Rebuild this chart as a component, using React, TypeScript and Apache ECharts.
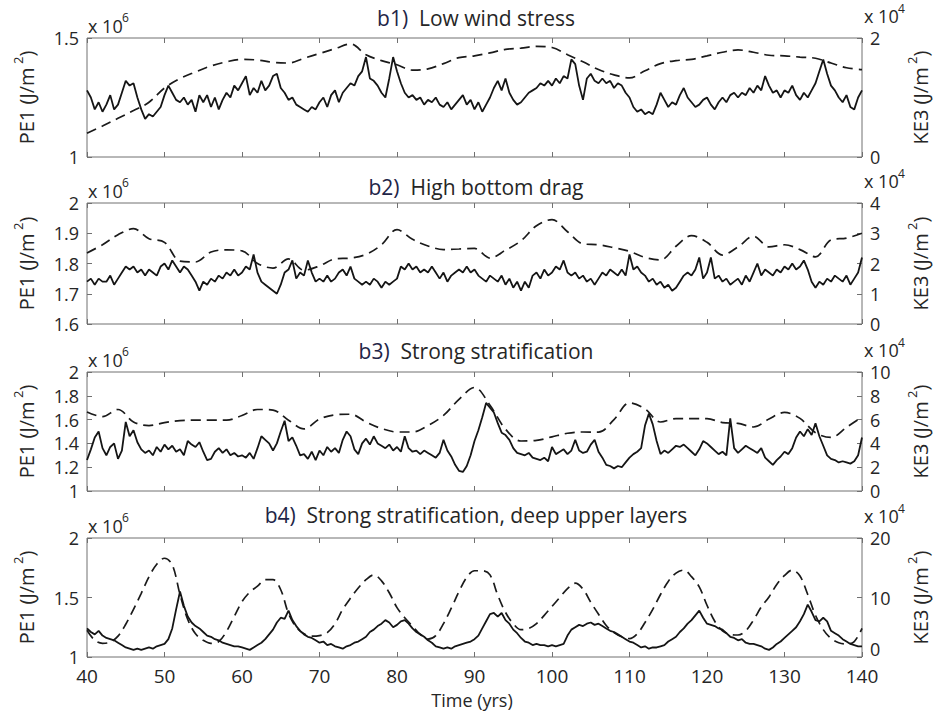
import React, { useEffect, useRef } from "react";
import * as echarts from "echarts";

// ---------- time grids (years) ----------
const TIME_HALF_YEAR = Array.from({ length: 201 }, (_, i) => 40 + i * 0.5);
const TIME_ONE_YEAR = Array.from({ length: 101 }, (_, i) => 40 + i);
const TIME_TWO_YEAR = Array.from({ length: 51 }, (_, i) => 40 + i * 2);

// ---------- panel texts ----------
const PANEL_TAGS = ["b1)", "b2)", "b3)", "b4)"];
const PANEL_TITLES = [
  "Low wind stress",
  "High bottom drag",
  "Strong stratification",
  "Strong stratification, deep upper layers",
];
const PE1_EXPONENT = "6";
const KE3_EXPONENT = "4";

// axis ranges: [min, max, interval]
const PE1_RANGES = [
  [1, 1.5, 0.5],
  [1.6, 2, 0.1],
  [1, 2, 0.2],
  [1, 2, 0.5],
];
const KE3_RANGES = [
  [0, 2, 2],
  [0, 4, 1],
  [0, 10, 2],
  [0, 20, 10],
];

// ---------- PE1 (x10^6 J/m^2), every 0.5 yr from 40 to 140 ----------
const PE1_B1 = [
  1.28,1.25,1.20,1.23,1.19,1.22,1.26,1.20,1.22,1.27,1.32,1.30,1.31,1.25,1.20,1.16,1.18,1.17,1.19,1.21,
  1.26,1.30,1.27,1.24,1.23,1.25,1.22,1.24,1.19,1.26,1.23,1.26,1.21,1.25,1.20,1.24,1.27,1.25,1.30,1.28,
  1.31,1.34,1.26,1.29,1.27,1.32,1.28,1.30,1.34,1.35,1.29,1.27,1.24,1.25,1.22,1.21,1.20,1.19,1.21,1.20,
  1.23,1.25,1.21,1.26,1.28,1.23,1.27,1.29,1.31,1.30,1.34,1.36,1.42,1.33,1.32,1.30,1.27,1.25,1.33,1.42,
  1.36,1.31,1.27,1.25,1.26,1.24,1.25,1.22,1.24,1.23,1.25,1.22,1.21,1.23,1.20,1.22,1.24,1.26,1.22,1.24,
  1.20,1.23,1.19,1.22,1.25,1.29,1.32,1.28,1.33,1.27,1.24,1.22,1.23,1.25,1.27,1.28,1.29,1.31,1.30,1.32,
  1.30,1.33,1.31,1.34,1.33,1.41,1.39,1.30,1.24,1.33,1.35,1.32,1.31,1.33,1.31,1.32,1.29,1.31,1.30,1.27,
  1.25,1.21,1.19,1.20,1.18,1.19,1.18,1.22,1.27,1.24,1.21,1.23,1.22,1.26,1.29,1.25,1.23,1.21,1.22,1.24,
  1.25,1.22,1.20,1.23,1.25,1.23,1.26,1.27,1.25,1.27,1.26,1.29,1.27,1.30,1.28,1.34,1.30,1.27,1.28,1.25,
  1.28,1.27,1.30,1.26,1.24,1.27,1.25,1.28,1.31,1.36,1.41,1.35,1.30,1.28,1.25,1.23,1.26,1.21,1.20,1.25,
  1.28,
];
const PE1_B2 = [
  1.74,1.75,1.73,1.75,1.74,1.74,1.76,1.73,1.75,1.77,1.79,1.78,1.79,1.77,1.78,1.76,1.78,1.77,1.76,1.79,
  1.80,1.78,1.81,1.79,1.77,1.79,1.78,1.76,1.74,1.71,1.74,1.73,1.75,1.74,1.76,1.75,1.77,1.76,1.78,1.76,
  1.77,1.79,1.78,1.83,1.77,1.74,1.73,1.72,1.71,1.70,1.73,1.77,1.78,1.81,1.75,1.77,1.76,1.81,1.77,1.74,
  1.75,1.74,1.76,1.74,1.75,1.77,1.78,1.76,1.79,1.75,1.74,1.73,1.74,1.73,1.75,1.74,1.72,1.74,1.73,1.74,
  1.75,1.79,1.78,1.80,1.78,1.79,1.77,1.78,1.77,1.79,1.77,1.75,1.77,1.74,1.76,1.77,1.78,1.77,1.79,1.77,
  1.78,1.76,1.75,1.74,1.76,1.75,1.74,1.76,1.73,1.75,1.72,1.74,1.71,1.74,1.72,1.76,1.77,1.75,1.78,1.76,
  1.77,1.79,1.78,1.81,1.77,1.76,1.77,1.75,1.76,1.74,1.75,1.73,1.75,1.77,1.76,1.78,1.77,1.76,1.78,1.76,
  1.83,1.78,1.79,1.77,1.76,1.74,1.75,1.73,1.74,1.72,1.73,1.71,1.72,1.74,1.76,1.77,1.76,1.78,1.82,1.75,
  1.77,1.82,1.75,1.76,1.74,1.75,1.73,1.74,1.75,1.73,1.76,1.74,1.77,1.80,1.76,1.78,1.77,1.76,1.78,1.77,
  1.79,1.78,1.80,1.78,1.79,1.81,1.78,1.74,1.72,1.74,1.73,1.75,1.74,1.76,1.75,1.74,1.76,1.73,1.75,1.77,
  1.82,
];
const PE1_B3 = [
  1.26,1.35,1.45,1.50,1.36,1.30,1.37,1.40,1.27,1.34,1.58,1.46,1.51,1.41,1.35,1.32,1.34,1.30,1.37,1.33,
  1.39,1.35,1.38,1.33,1.35,1.30,1.42,1.39,1.37,1.41,1.33,1.26,1.27,1.33,1.36,1.32,1.35,1.30,1.32,1.29,
  1.30,1.28,1.32,1.27,1.36,1.46,1.43,1.40,1.34,1.40,1.50,1.59,1.42,1.45,1.38,1.30,1.31,1.27,1.33,1.26,
  1.34,1.30,1.37,1.33,1.36,1.32,1.43,1.50,1.46,1.35,1.31,1.40,1.44,1.39,1.46,1.40,1.38,1.36,1.39,1.34,
  1.37,1.33,1.46,1.36,1.33,1.34,1.31,1.34,1.32,1.30,1.28,1.32,1.43,1.34,1.29,1.22,1.17,1.16,1.21,1.30,
  1.42,1.51,1.62,1.74,1.70,1.66,1.57,1.49,1.47,1.43,1.36,1.32,1.31,1.30,1.32,1.28,1.27,1.26,1.28,1.25,
  1.37,1.31,1.33,1.35,1.31,1.34,1.43,1.34,1.32,1.33,1.39,1.43,1.33,1.28,1.22,1.21,1.19,1.21,1.20,1.24,
  1.28,1.31,1.33,1.36,1.55,1.65,1.56,1.42,1.31,1.34,1.32,1.35,1.38,1.37,1.39,1.36,1.33,1.30,1.35,1.42,
  1.40,1.37,1.34,1.31,1.33,1.30,1.61,1.36,1.32,1.35,1.38,1.36,1.34,1.32,1.36,1.28,1.25,1.22,1.26,1.29,
  1.33,1.31,1.36,1.45,1.50,1.46,1.52,1.47,1.57,1.46,1.38,1.30,1.27,1.26,1.24,1.25,1.24,1.23,1.25,1.30,
  1.45,
];
const PE1_B4 = [
  1.24,1.21,1.19,1.22,1.18,1.16,1.15,1.14,1.12,1.10,1.08,1.07,1.06,1.07,1.06,1.07,1.08,1.07,1.09,1.10,
  1.11,1.15,1.24,1.40,1.55,1.43,1.34,1.29,1.26,1.24,1.21,1.18,1.17,1.15,1.14,1.12,1.11,1.10,1.09,1.09,
  1.08,1.07,1.06,1.08,1.10,1.12,1.15,1.19,1.23,1.29,1.33,1.32,1.39,1.31,1.26,1.22,1.19,1.17,1.16,1.14,
  1.12,1.13,1.10,1.11,1.09,1.08,1.07,1.09,1.10,1.12,1.13,1.15,1.17,1.21,1.23,1.26,1.28,1.31,1.29,1.25,
  1.27,1.30,1.31,1.28,1.24,1.21,1.19,1.17,1.14,1.12,1.09,1.08,1.07,1.08,1.07,1.09,1.10,1.11,1.12,1.13,
  1.15,1.18,1.24,1.30,1.36,1.37,1.34,1.37,1.31,1.28,1.23,1.20,1.16,1.13,1.12,1.10,1.11,1.10,1.10,1.09,
  1.10,1.09,1.10,1.11,1.18,1.23,1.25,1.27,1.26,1.28,1.29,1.27,1.28,1.26,1.24,1.22,1.21,1.19,1.17,1.15,
  1.13,1.12,1.10,1.08,1.09,1.07,1.08,1.08,1.09,1.10,1.13,1.15,1.17,1.21,1.24,1.28,1.31,1.35,1.39,1.33,
  1.28,1.27,1.26,1.24,1.23,1.20,1.17,1.16,1.14,1.15,1.12,1.11,1.11,1.10,1.09,1.07,1.06,1.08,1.11,1.13,
  1.16,1.19,1.22,1.25,1.30,1.36,1.44,1.38,1.31,1.30,1.33,1.30,1.22,1.20,1.18,1.15,1.13,1.11,1.10,1.09,
  1.09,
];

// ---------- KE3 (x10^4 J/m^2) ----------
// b1-b3: every 2 yr from 40 to 140; b4: every 1 yr
const KE3_B1 = [
  0.40,0.52,0.65,0.78,0.92,1.16,1.32,1.43,1.53,1.60,1.64,1.63,1.59,1.58,1.66,1.74,1.82,1.90,1.72,1.62,
  1.55,1.46,1.48,1.57,1.67,1.70,1.75,1.81,1.83,1.86,1.84,1.72,1.60,1.47,1.38,1.33,1.45,1.57,1.62,1.64,
  1.70,1.76,1.80,1.76,1.71,1.70,1.68,1.66,1.58,1.50,1.47,
];
const KE3_B2 = [
  2.35,2.62,2.95,3.15,2.82,2.70,2.08,2.05,2.38,2.45,2.42,2.00,1.85,2.15,1.78,1.92,2.15,2.18,2.30,2.62,
  3.12,2.80,2.58,2.46,2.48,2.50,2.18,2.44,2.75,3.25,3.45,3.05,2.65,2.62,2.52,2.40,2.20,2.12,2.57,2.92,
  2.70,2.28,2.55,2.90,2.55,2.62,2.46,2.22,2.78,2.84,3.00,
];
const KE3_B3 = [
  6.64,6.25,6.85,5.80,5.50,5.75,5.92,5.95,5.95,5.95,6.35,6.85,6.80,5.95,5.22,6.05,6.40,6.45,5.80,5.25,
  4.96,4.96,5.50,6.35,7.70,8.70,7.20,5.20,4.20,4.25,4.55,4.85,4.96,4.95,6.00,7.40,6.90,5.80,6.08,6.08,
  6.08,5.75,5.68,5.38,6.05,6.60,6.10,4.90,4.50,5.35,6.22,
];
const KE3_B4 = [
  4.5,2.8,2.3,2.5,3.5,5.5,8.0,10.7,13.5,15.6,
  16.6,15.5,10.5,6.3,3.9,2.8,2.3,2.6,4.3,6.8,
  9.3,10.9,11.9,13.0,13.0,11.3,7.3,5.0,3.9,3.5,
  3.6,4.1,5.6,8.0,9.9,11.6,13.0,13.8,12.8,10.8,
  8.3,6.6,5.2,3.8,3.0,3.6,5.6,8.2,11.0,13.4,
  14.5,14.5,13.8,10.4,7.5,5.6,4.6,4.8,5.6,7.0,
  8.5,10.0,11.5,12.4,11.4,9.2,7.2,5.3,4.1,3.4,
  3.1,3.9,5.8,8.0,10.5,12.7,14.1,14.6,13.5,11.8,
  8.7,6.0,4.4,3.8,3.7,4.4,6.2,8.4,10.1,12.2,
  13.7,14.6,13.6,10.5,7.0,4.6,3.1,2.4,2.2,2.6,
  4.8,
];

const PE1_SERIES = [PE1_B1, PE1_B2, PE1_B3, PE1_B4];
const KE3_SERIES = [KE3_B1, KE3_B2, KE3_B3, KE3_B4];
const KE3_TIMES = [TIME_TWO_YEAR, TIME_TWO_YEAR, TIME_TWO_YEAR, TIME_ONE_YEAR];

// ---------- layout ----------
const FONT = '"Open Sans", "Liberation Sans", sans-serif';
const GRID_LEFT = 87;
const GRID_WIDTH = 775;
const GRID_TOPS = [38, 203, 372, 538];
const GRID_HEIGHTS = [119, 121, 119, 119];
const TITLE_Y = [18, 187, 351, 515];
const TEXT = "#262626";
const FRAME = "#707070";

function plainText(x: number, y: number, text: string, size: number, align = "left", lineHeight?: number) {
  return {
    type: "text",
    x,
    y,
    silent: true,
    style: {
      text,
      fontSize: size,
      fontFamily: FONT,
      fill: TEXT,
      align,
      verticalAlign: "middle",
      ...(lineHeight ? { lineHeight } : {}),
    },
  };
}

function axisName(x: number, y: number, label: string) {
  return {
    type: "text",
    x,
    y,
    rotation: Math.PI / 2,
    silent: true,
    style: {
      text: `{a|${label} (J/m}{s| 2}{a|)}`,
      align: "center",
      verticalAlign: "middle",
      rich: {
        a: { fontSize: 20, fontFamily: FONT, fill: TEXT, lineHeight: 30, verticalAlign: "middle" },
        s: { fontSize: 13, fontFamily: FONT, fill: TEXT, verticalAlign: "top" },
      },
    },
  };
}

function buildOption() {
  const grid: any[] = [];
  const xAxis: any[] = [];
  const yAxis: any[] = [];
  const series: any[] = [];
  const graphic: any[] = [];

  for (let k = 0; k < 4; k++) {
    grid.push({
      left: GRID_LEFT,
      top: GRID_TOPS[k],
      width: GRID_WIDTH,
      height: GRID_HEIGHTS[k],
      show: true,
      borderColor: FRAME,
      borderWidth: 1,
    });
    const xBase = {
      type: "value",
      gridIndex: k,
      min: 40,
      max: 140,
      interval: 10,
      axisLine: { show: false },
      splitLine: { show: false },
      axisTick: { inside: true, length: 5, lineStyle: { color: FRAME } },
    };
    xAxis.push({
      ...xBase,
      position: "bottom",
      axisLabel: {
        show: k === 3,
        fontSize: 19,
        lineHeight: 16,
        color: TEXT,
        fontFamily: FONT,
        margin: 11,
      },
    });
    xAxis.push({ ...xBase, position: "top", axisLabel: { show: false } });

    const [pMin, pMax, pInt] = PE1_RANGES[k];
    const [kMin, kMax, kInt] = KE3_RANGES[k];
    const yLabel = { fontSize: 18, lineHeight: 16, color: TEXT, fontFamily: FONT, margin: 8 };
    const yBase = {
      type: "value",
      gridIndex: k,
      axisLine: { show: false },
      splitLine: { show: false },
      axisTick: { inside: true, length: 5, lineStyle: { color: FRAME } },
    };
    yAxis.push({ ...yBase, position: "left", min: pMin, max: pMax, interval: pInt, axisLabel: yLabel });
    yAxis.push({
      ...yBase,
      position: "right",
      min: kMin,
      max: kMax,
      interval: kInt,
      axisLabel: k === 3 ? { ...yLabel, verticalAlignMinLabel: "bottom" } : yLabel,
    });

    const keT = KE3_TIMES[k];
    series.push({
      type: "line",
      xAxisIndex: 2 * k,
      yAxisIndex: 2 * k + 1,
      data: KE3_SERIES[k].map((v, i) => [keT[i], v]),
      showSymbol: false,
      symbol: "none",
      smooth: 0.35,
      lineStyle: { color: "#1a1a1a", width: 1.7, type: [10, 6] },
      z: 2,
    });
    series.push({
      type: "line",
      xAxisIndex: 2 * k,
      yAxisIndex: 2 * k,
      data: PE1_SERIES[k].map((v, i) => [TIME_HALF_YEAR[i], v]),
      showSymbol: false,
      symbol: "none",
      lineStyle: { color: "#151515", width: 1.8 },
      z: 3,
    });

    const top = GRID_TOPS[k];
    const mid = top + GRID_HEIGHTS[k] / 2;
    graphic.push({
      type: "text",
      x: 476,
      y: TITLE_Y[k],
      silent: true,
      style: {
        text: `{b|${PANEL_TAGS[k]}}{t|  ${PANEL_TITLES[k]}}`,
        align: "center",
        verticalAlign: "middle",
        rich: {
          b: { fontSize: 21, fontFamily: FONT, fill: "#1f2547" },
          t: { fontSize: 21, fontFamily: FONT, fill: TEXT },
        },
      },
    });
    // exponent markers
    graphic.push(plainText(88, top - 12, "x 10", 18));
    graphic.push(plainText(122, top - 21, PE1_EXPONENT, 12));
    graphic.push(plainText(864, top - 22, "x 10", 18));
    graphic.push(plainText(898, top - 30, KE3_EXPONENT, 12));
    // axis names
    graphic.push(axisName(26, mid, "PE1"));
    graphic.push(axisName(920, mid, "KE3"));
  }

  graphic.push(plainText(472, 700, "Time (yrs)", 18, "center", 16));

  return {
    animation: false,
    backgroundColor: "#ffffff",
    grid,
    xAxis,
    yAxis,
    series,
    graphic,
  };
}

export default function App() {
  const ref = useRef<HTMLDivElement>(null);
  useEffect(() => {
    if (!ref.current) return;
    const chart = echarts.init(ref.current, undefined, { renderer: "svg" });
    chart.setOption(buildOption() as any);
    return () => chart.dispose();
  }, []);
  return (
    <div
      ref={ref}
      style={{ position: "absolute", left: 0, top: 0, width: 933, height: 712, background: "#fff" }}
    />
  );
}
